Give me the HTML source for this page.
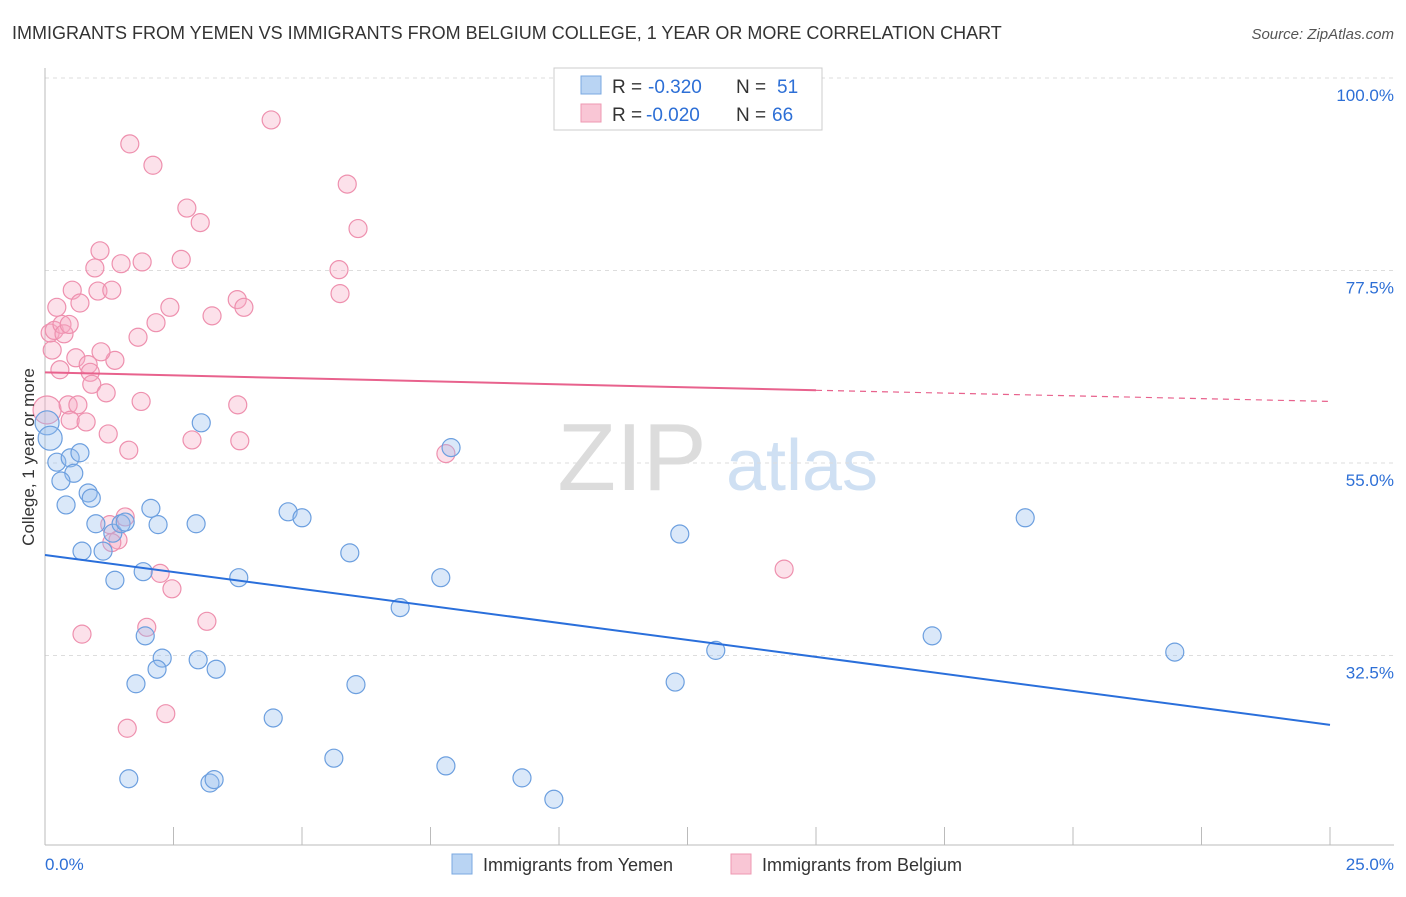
<!DOCTYPE html>
<html><head><meta charset="utf-8">
<style>
body{margin:0;background:#fff;font-family:"Liberation Sans",sans-serif;}
svg text{font-family:"Liberation Sans",sans-serif;}
</style></head>
<body>
<svg id="chart" width="1406" height="892" viewBox="0 0 1406 892" xmlns="http://www.w3.org/2000/svg">
<text x="12" y="39" font-size="18" fill="#333">IMMIGRANTS FROM YEMEN VS IMMIGRANTS FROM BELGIUM COLLEGE, 1 YEAR OR MORE CORRELATION CHART</text>
<text x="1394" y="39" font-size="15" fill="#555" font-style="italic" text-anchor="end">Source: ZipAtlas.com</text>
<g>
<text x="632" y="490" font-size="96" fill="#dcdcdc" font-family="Liberation Serif" text-anchor="middle">ZIP</text>
<text x="802" y="490" font-size="72" fill="#cfe0f3" text-anchor="middle">atlas</text>
</g>
<g id="grid"></g>
<g id="axes"></g>
<g id="pts"></g>
<g id="trend"></g>
<g>
<rect x="554" y="68" width="268" height="62" fill="#fff" stroke="#ccc"/>
<rect x="581" y="76" width="20" height="18" fill="#b9d4f3" stroke="#7aa8e0"/>
<rect x="581" y="104" width="20" height="18" fill="#f9c6d5" stroke="#ee98b2"/>
<text x="612" y="93" font-size="19" fill="#333">R =</text>
<text x="648" y="93" font-size="19" fill="#2d6fd6">-0.320</text>
<text x="736" y="93" font-size="19" fill="#333">N =</text>
<text x="777" y="93" font-size="19" fill="#2d6fd6">51</text>
<text x="612" y="121" font-size="19" fill="#333">R =</text>
<text x="646" y="121" font-size="19" fill="#2d6fd6">-0.020</text>
<text x="736" y="121" font-size="19" fill="#333">N =</text>
<text x="772" y="121" font-size="19" fill="#2d6fd6">66</text>
</g>
<text transform="translate(34,457) rotate(-90)" font-size="17" fill="#333" text-anchor="middle">College, 1 year or more</text>
<text x="45" y="870" font-size="17" fill="#2d6fd6">0.0%</text>
<text x="1394" y="870" font-size="17" fill="#2d6fd6" text-anchor="end">25.0%</text>
<g>
<rect x="452" y="854" width="20" height="20" fill="#b9d4f3" stroke="#7aa8e0"/>
<text x="483" y="871" font-size="18" fill="#333">Immigrants from Yemen</text>
<rect x="731" y="854" width="20" height="20" fill="#f9c6d5" stroke="#ee98b2"/>
<text x="762" y="871" font-size="18" fill="#333">Immigrants from Belgium</text>
</g>
</svg>
<script>
const yTicks=[100,77.5,55,32.5];
const yemenX=[0.04,0.10,0.23,0.49,0.68,0.56,0.31,0.41,0.84,0.90,0.99,0.72,1.13,1.32,1.48,1.56,1.36,2.06,2.20,2.94,3.04,1.91,1.95,2.28,2.18,1.77,2.98,3.33,3.77,4.73,5.00,5.93,4.44,6.05,5.62,1.63,3.21,3.29,6.91,7.70,7.90,7.80,9.28,9.90,12.35,12.26,13.05,17.26,19.07,21.98];
const yemenY=[59.7,57.9,55.1,55.6,56.2,53.8,52.9,50.1,51.5,50.9,47.9,44.7,44.7,46.8,47.9,48.1,41.3,49.7,47.8,47.9,59.7,42.3,34.8,32.2,30.9,29.2,32.0,30.9,41.6,49.3,48.6,44.5,25.2,29.1,20.5,18.1,17.6,18.0,38.1,41.6,56.8,19.6,18.2,15.7,46.7,29.4,33.1,34.8,48.6,32.9];
const belgX=[0.04,0.14,0.10,0.23,0.18,0.33,0.37,0.47,0.29,0.53,0.68,0.60,0.84,0.88,0.91,1.07,0.97,1.03,1.30,1.48,1.89,1.65,2.10,2.76,3.02,2.65,2.43,2.16,1.81,1.36,1.09,1.19,0.45,0.64,0.49,0.80,1.23,1.63,1.87,2.86,3.25,3.74,3.87,3.75,3.79,4.40,5.88,6.09,5.72,5.74,1.26,1.42,1.56,1.30,2.24,2.47,0.72,1.98,3.15,2.35,1.60,7.80,14.38];
const belgY=[61.2,68.2,70.2,73.2,70.5,71.2,70.1,71.2,65.9,75.2,73.7,67.3,66.5,65.6,64.2,79.8,77.8,75.1,75.2,78.3,78.5,92.3,89.8,84.8,83.1,78.8,73.2,71.4,69.7,67.0,68.0,63.2,61.8,61.8,60.0,59.8,58.4,56.5,62.2,57.7,72.2,74.1,73.2,61.8,57.6,95.1,87.6,82.4,77.6,74.8,47.8,46.0,48.7,45.7,42.1,40.3,35.0,35.8,36.5,25.7,24.0,56.1,42.6];
const yemenTrend=[44.25,24.4];
const belgTrend=[65.6,63.5,62.2];
const X0=45,X1=1330,Y100=78,PPY=8.556;
const sx=v=>X0+v/25*(X1-X0);
const sy=v=>Y100+(100-v)*PPY;
const NS="http://www.w3.org/2000/svg";
function mk(tag,attrs,parent){const e=document.createElementNS(NS,tag);for(const k in attrs)e.setAttribute(k,attrs[k]);parent.appendChild(e);return e;}
const grid=document.getElementById('grid'),axes=document.getElementById('axes');
yTicks.forEach(t=>{
 const l=mk('line',{x1:X0,x2:1394,y1:sy(t),y2:sy(t),stroke:'#ddd','stroke-dasharray':'4,4'},grid);
 
 
 const tx=mk('text',{x:1394,y:sy(t)+23,'font-size':17,fill:'#2d6fd6','text-anchor':'end'},grid);
 tx.textContent=t.toFixed(1)+'%';
 
 
});
const ax=mk('line',{x1:X0,x2:1394,y1:845,y2:845,stroke:'#bbb'},axes);


const ay=mk('line',{x1:X0,x2:X0,y1:68,y2:845,stroke:'#bbb'},axes);


for(let i=0;i<=10;i++){
 const t=mk('line',{x1:sx(i*2.5),x2:sx(i*2.5),y1:827,y2:845,stroke:'#bbb'},axes);
 
 
}
const pts=document.getElementById('pts');
belgX.forEach((x,i)=>{
 const c=mk('circle',{cx:sx(x),cy:sy(belgY[i]),r:i==0?14:9,fill:'rgba(246,170,195,0.35)',stroke:'#ee90ae','stroke-width':1.2},pts);
 
 
});
yemenX.forEach((x,i)=>{
 const c=mk('circle',{cx:sx(x),cy:sy(yemenY[i]),r:i<2?12:9,fill:'rgba(150,190,238,0.35)',stroke:'#6c9fdf','stroke-width':1.2},pts);
 
 
});
const tr=document.getElementById('trend');
const l1=mk('line',{x1:sx(0),y1:sy(yemenTrend[0]),x2:sx(25),y2:sy(yemenTrend[1]),stroke:'#2a6fdb','stroke-width':2},tr);


const l2=mk('line',{x1:sx(0),y1:sy(belgTrend[0]),x2:sx(15),y2:sy(belgTrend[1]),stroke:'#e8628d','stroke-width':2},tr);


const l3=mk('line',{x1:sx(15),y1:sy(belgTrend[1]),x2:sx(25),y2:sy(belgTrend[2]),stroke:'#e8628d','stroke-width':1.2,'stroke-dasharray':'6,5'},tr);


</script>
</body></html>
